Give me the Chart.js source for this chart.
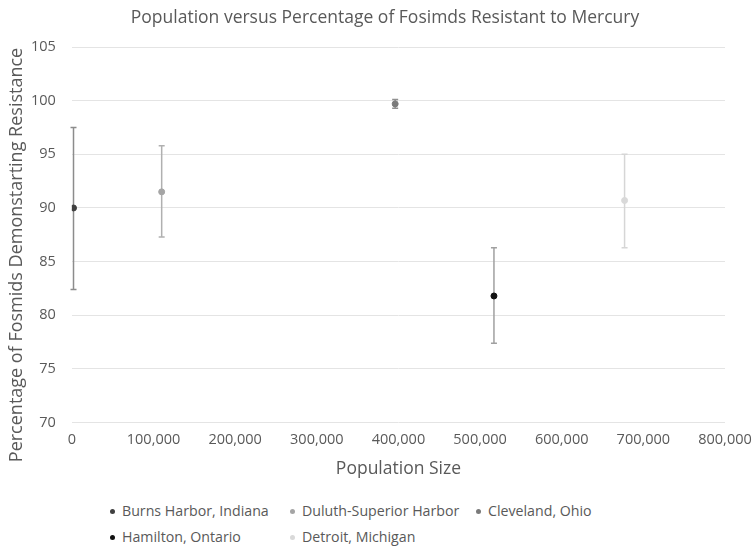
<!DOCTYPE html>
<html>
<head>
<meta charset="utf-8">
<script src="https://cdn.jsdelivr.net/npm/chart.js@4"></script>
<style>
  body { margin: 0; background: #fff; font-family: 'Open Sans', sans-serif; }
  #wrap { position: relative; width: 755px; height: 492px; }
  #legend { position: relative; width: 755px; height: 60px; font-size: 14.2px; color: #595959; }
  .item { position: absolute; display: flex; align-items: center; white-space: nowrap; line-height: 18px; }
  .dot { width: 5px; height: 5px; border-radius: 50%; margin-right: 7px; }
</style>
</head>
<body>
<div id="wrap"><canvas id="grafico"></canvas></div>
<div id="legend"></div>
<script>
// ======== DADOS ===========
const sites = ['Burns Harbor, Indiana', 'Duluth-Superior Harbor', 'Cleveland, Ohio', 'Hamilton, Ontario', 'Detroit, Michigan'];
const population = [2000, 110000, 396000, 517000, 677000];
const resistance = [90.0, 91.5, 99.7, 81.8, 90.7];
const errorPlus = [7.5, 4.3, 0.4, 4.5, 4.3];
const errorMinus = [7.6, 4.2, 0.4, 4.4, 4.4];
const pointColors = ['#404040', '#a5a5a5', '#7a7a7a', '#111111', '#d9d9d9'];
const barColors = ['#8c8c8c', '#b0b0b0', '#909090', '#a0a0a0', '#d6d6d6'];
const xTicks = [0, 100000, 200000, 300000, 400000, 500000, 600000, 700000, 800000];
const yTicks = [70, 75, 80, 85, 90, 95, 100, 105];
const yTitle = 'Percentage of Fosmids Demonstarting Resistance';

// barras de erro desenhadas com as escalas do gráfico
const errorBars = {
  id: 'errorBars',
  beforeDatasetsDraw(chart) {
    const { ctx, scales: { x, y } } = chart;
    ctx.save();
    ctx.lineWidth = 1.5;
    sites.forEach((s, i) => {
      const px = x.getPixelForValue(population[i]);
      const top = y.getPixelForValue(resistance[i] + errorPlus[i]);
      const bot = y.getPixelForValue(resistance[i] - errorMinus[i]);
      ctx.strokeStyle = barColors[i];
      ctx.beginPath();
      ctx.moveTo(px, top); ctx.lineTo(px, bot);
      ctx.moveTo(px - 3, top); ctx.lineTo(px + 3, top);
      ctx.moveTo(px - 3, bot); ctx.lineTo(px + 3, bot);
      ctx.stroke();
    });
    ctx.restore();
  }
};

// título do eixo Y, centrado na altura total como no original
const tituloY = {
  id: 'tituloY',
  afterDraw(chart) {
    const { ctx } = chart;
    ctx.save();
    ctx.translate(17, 255);
    ctx.rotate(-Math.PI / 2);
    ctx.font = '18px "Open Sans"';
    ctx.fillStyle = '#595959';
    ctx.textAlign = 'center';
    ctx.textBaseline = 'middle';
    ctx.fillText(yTitle, 0, 0);
    ctx.restore();
  }
};

const fonte = size => ({ family: 'Open Sans', size: size, weight: 'normal' });

new Chart(document.getElementById('grafico'), {
  type: 'scatter',
  data: {
    datasets: sites.map((s, i) => ({
      label: s,
      data: [{ x: population[i], y: resistance[i] }],
      backgroundColor: pointColors[i],
      borderColor: pointColors[i],
      pointRadius: 3
    }))
  },
  options: {
    responsive: true,
    maintainAspectRatio: false,
    animation: false,
    layout: { padding: { left: 15, right: 0, top: 6, bottom: 4 } },
    plugins: {
      legend: { display: false },
      tooltip: { enabled: false },
      title: {
        display: true,
        text: 'Population versus Percentage of Fosimds Resistant to Mercury',
        color: '#595959',
        font: fonte(17.5),
        padding: { top: 2, bottom: 18 }
      }
    },
    scales: {
      x: {
        type: 'linear',
        min: 0, max: 800000,
        afterBuildTicks: axis => { axis.ticks = xTicks.map(v => ({ value: v })); },
        afterFit: axis => { axis.paddingRight = 30; },
        grid: { display: false, drawTicks: false },
        border: { display: false },
        ticks: {
          color: '#595959', font: fonte(14.5), maxRotation: 0, padding: 9,
          callback: v => v.toLocaleString('en-US')
        },
        title: { display: true, text: 'Population Size', color: '#595959', font: fonte(17.5), padding: { top: 1, bottom: 8 } }
      },
      y: {
        min: 70, max: 105,
        afterBuildTicks: axis => { axis.ticks = yTicks.map(v => ({ value: v })); },
        grid: { color: '#e4e4e4', drawTicks: false },
        border: { display: false },
        ticks: { color: '#595959', font: fonte(14.5), padding: 16 },
        title: { display: false }
      }
    }
  },
  plugins: [errorBars, tituloY]
});

// legenda em HTML, no mesmo formato do original
const legendPos = [[110, 10], [290, 10], [476, 10], [110, 36], [290, 36]];
const legend = document.getElementById('legend');
sites.forEach((s, i) => {
  const el = document.createElement('div');
  el.className = 'item';
  el.style.left = legendPos[i][0] + 'px';
  el.style.top = legendPos[i][1] + 'px';
  el.innerHTML = '<span class="dot" style="background:' + pointColors[i] + '"></span>' + s;
  legend.appendChild(el);
});
</script>
</body>
</html>
